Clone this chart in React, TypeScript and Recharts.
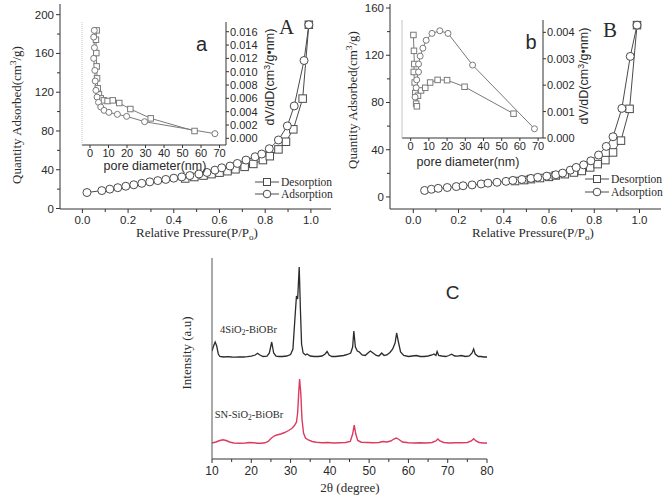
import React from "react";
import { LineChart, Line, XAxis, YAxis } from "recharts";

// ---------- data ----------
// (A) nitrogen isotherm, sample 1
const adsA_p = [0.02, 0.085, 0.12, 0.155, 0.19, 0.225, 0.26, 0.295, 0.33, 0.365, 0.4, 0.435, 0.47, 0.51, 0.545, 0.58, 0.61, 0.646, 0.678, 0.716, 0.756, 0.785, 0.818, 0.858, 0.897, 0.927, 0.97, 0.991];
const adsA_q = [16.5, 18.5, 20, 21.5, 23, 24.5, 26, 27.5, 28.8, 30, 31.3, 32.6, 34, 35.6, 37.2, 39.6, 42, 43.8, 46.5, 50, 53.4, 56.2, 61.7, 70.7, 85.2, 105.8, 152.7, 189.6];
const desA_p = [0.45, 0.49, 0.53, 0.565, 0.6, 0.635, 0.67, 0.71, 0.748, 0.79, 0.82, 0.858, 0.891, 0.923, 0.964, 0.991];
const desA_q = [31, 32.5, 34, 35.5, 37, 38.5, 40.5, 43, 46, 50, 54, 61, 68.9, 81.7, 113.4, 189.6];

// (B) nitrogen isotherm, sample 2
const adsB_p = [0.05, 0.08, 0.11, 0.15, 0.19, 0.22, 0.26, 0.3, 0.33, 0.37, 0.41, 0.44, 0.48, 0.52, 0.55, 0.59, 0.63, 0.66, 0.694, 0.72, 0.753, 0.785, 0.819, 0.853, 0.883, 0.922, 0.959, 0.989];
const adsB_q = [5.5, 6.5, 7.3, 8, 8.8, 9.5, 10.2, 11, 11.7, 12.4, 13.2, 14, 14.8, 15.7, 16.6, 17.6, 18.8, 20.2, 22.7, 25, 27.2, 30.6, 35.5, 42.8, 51, 75, 119, 145.5];
const desB_p = [0.45, 0.49, 0.52, 0.56, 0.6, 0.63, 0.67, 0.71, 0.745, 0.782, 0.815, 0.849, 0.883, 0.918, 0.956, 0.989];
const desB_q = [13.5, 14.3, 15.1, 16, 17, 18.2, 19.3, 20.7, 22, 25, 27.8, 31.2, 37.7, 47.7, 74.6, 145.5];

// (a) pore size distribution, sample 1
const psdA_desD = [3.6, 3.2, 3.4, 3.6, 3.8, 4.2, 4.8, 5.8, 7.5, 9.5, 12.3, 15.8, 21.8, 32.8, 56.5];
const psdA_desV = [0.0162, 0.0148, 0.0128, 0.0108, 0.009, 0.0075, 0.0066, 0.006, 0.0057, 0.0056, 0.0057, 0.0053, 0.0044, 0.003, 0.0011];
const psdA_adsD = [2.3, 2.0, 2.4, 2.0, 2.6, 2.8, 3.2, 3.8, 4.6, 5.8, 7.6, 10.2, 14.8, 19.8, 29.5, 67.5];
const psdA_adsV = [0.0162, 0.0152, 0.0136, 0.012, 0.0102, 0.0086, 0.0072, 0.0062, 0.0054, 0.0047, 0.0042, 0.0039, 0.0036, 0.0033, 0.0025, 0.0007];

// (b) pore size distribution, sample 2
const psdB_adsD = [2.4, 3.0, 3.3, 4.3, 4.3, 5.2, 6.7, 8.5, 11.7, 16, 20.5, 34, 68];
const psdB_adsV = [0.00155, 0.0019, 0.0022, 0.0025, 0.0028, 0.0031, 0.0034, 0.0037, 0.00396, 0.00406, 0.00396, 0.00276, 0.00035];
const psdB_desD = [1.5, 1.8, 2.0, 1.7, 2.2, 2.5, 3.0, 3.4, 4.0, 5.7, 8.0, 10.7, 14.8, 20, 29.6, 56.5];
const psdB_desV = [0.0039, 0.0033, 0.0028, 0.0025, 0.0021, 0.0017, 0.0013, 0.0012, 0.0016, 0.0018, 0.0019, 0.0021, 0.0022, 0.00219, 0.00194, 0.00092];

// (C) XRD patterns [2theta, intensity a.u. (offset stacked)]
const xrd4SiO2: [number, number][] = [
  [10, 108], [10.4, 113], [10.8, 117], [11.2, 113], [11.6, 105], [12, 102.5], [13, 102], [14, 102.3], [15, 102], [16, 101.8],
  [17, 102.2], [18, 102], [19, 102.3], [20, 102.8], [21, 104], [21.6, 105.8], [22.2, 104], [23, 102.5], [24, 102.8], [24.6, 106],
  [25.2, 117], [25.7, 106], [26.3, 102.8], [27, 102.5], [28, 102.5], [29, 103], [30, 104.5], [30.6, 110], [31.1, 140], [31.5, 163],
  [31.8, 160], [32.2, 192], [32.5, 150], [32.8, 115], [33.2, 106], [33.8, 104], [34.2, 105], [35, 103], [36, 102.5], [37, 102.5],
  [38, 103], [38.8, 105], [39.3, 107.5], [39.8, 104], [40.5, 102.5], [41.5, 102.5], [42.5, 103], [43.5, 103.5], [44.5, 104.5], [45.3, 106],
  [45.8, 112], [46.1, 128], [46.5, 112], [47, 108], [47.5, 107], [48.2, 104], [49, 103.5], [49.7, 106], [50.3, 108], [51, 106],
  [51.8, 103.5], [52.5, 103], [53.2, 106], [53.8, 103.5], [54.5, 104], [55.3, 106.5], [56, 110], [56.6, 116], [57, 126], [57.4, 118],
  [58, 107], [58.8, 103.5], [60, 102.5], [61, 103], [62, 103.5], [63, 102.5], [64, 102.5], [65, 103], [66, 104], [66.5, 105],
  [67, 103.5], [67.3, 107.5], [67.7, 103.5], [68.5, 103], [69.5, 102.5], [70.3, 103.5], [71, 104.8], [71.8, 103], [72.5, 102.8], [73.5, 103.5],
  [74.5, 102.5], [75.5, 103], [76.2, 106], [76.6, 110], [77, 105], [77.8, 102.5], [78.5, 102.5], [79.2, 102], [80, 102],
];
const xrdSN: [number, number][] = [
  [10, 16], [11, 17], [12, 18.5], [12.8, 19.2], [13.6, 18.5], [14.5, 17], [15.5, 16], [17, 15.8], [18.5, 16], [19.5, 16.5],
  [20.5, 16.3], [21.5, 15.8], [22.5, 15.8], [23.5, 16.2], [24.3, 17.5], [25, 20.5], [25.8, 23], [26.5, 24], [27.5, 25], [28.5, 26.5],
  [29.5, 28.5], [30.3, 30.5], [31, 33.5], [31.5, 37], [31.8, 46], [32.1, 68], [32.3, 80], [32.6, 66], [32.9, 40], [33.3, 26],
  [33.8, 21], [34.5, 19], [35.5, 17.5], [36.5, 16.8], [38, 16.3], [39.5, 16.5], [41, 16], [42.5, 16.2], [44, 16.5], [45.2, 17.5],
  [45.8, 25], [46.2, 34], [46.6, 25], [47.1, 18.5], [48, 16.8], [49.5, 16.5], [51, 16.3], [52.5, 16.5], [53.5, 17.5], [54.5, 17],
  [55.5, 18], [56.3, 20], [56.9, 21], [57.6, 19.5], [58.5, 17], [60, 16.2], [61.5, 16], [63, 16.3], [64.5, 16], [66, 16.5],
  [67, 18], [67.5, 20], [68, 18], [69, 16.5], [70.5, 16], [72, 16.3], [73.5, 16.2], [75, 16.5], [76, 18], [76.6, 20.3],
  [77.2, 18], [78, 16.5], [79, 16], [80, 16],
];

// tick values
const pressureTicks = [0, 0.1, 0.2, 0.3, 0.4, 0.5, 0.6, 0.7, 0.8, 0.9, 1.0];
const qTicksA = [0, 20, 40, 60, 80, 100, 120, 140, 160, 180, 200];
const qTicksB = [0, 20, 40, 60, 80, 100, 120, 140, 160];
const poreTicks = [0, 10, 20, 30, 40, 50, 60, 70];
const dvTicksA = [0, 0.002, 0.004, 0.006, 0.008, 0.01, 0.012, 0.014, 0.016];
const dvTicksB = [0, 0.001, 0.002, 0.003, 0.004];
const thetaTicks = [10, 15, 20, 25, 30, 35, 40, 45, 50, 55, 60, 65, 70, 75, 80];

// ---------- helpers ----------
const SERIF = '"Liberation Serif", "Times New Roman", serif';
const SANS = '"Liberation Sans", Arial, sans-serif';
const AXIS = "#333";
const TXT = "#2a2a2a";
const MARK = "#4a4a4a";
const INSET = "#7a7a7a";

const zip = (xs: number[], ys: number[]) => xs.map((x, i) => ({ x, y: ys[i] }));
const pairs = (d: [number, number][]) => d.map(([x, y]) => ({ x, y }));

type TickOpts = {
  major: (v: number) => boolean;
  fmt: (v: number) => string;
  size: number;
  majorLen: number;
  minorLen: number;
  gap: number;
};

const bottomTick = (o: TickOpts) => (p: any) => {
  const v = p.payload.value as number;
  const big = o.major(v);
  return (
    <g>
      <line x1={p.x} x2={p.x} y1={p.y} y2={p.y + (big ? o.majorLen : o.minorLen)} stroke={AXIS} />
      {big && (
        <text x={p.x} y={p.y + o.gap} textAnchor="middle" dominantBaseline="central" fontSize={o.size} fontFamily={SANS} fill={TXT}>
          {o.fmt(v)}
        </text>
      )}
    </g>
  );
};

const leftTick = (o: TickOpts) => (p: any) => {
  const v = p.payload.value as number;
  const big = o.major(v);
  return (
    <g>
      <line x1={p.x} x2={p.x - (big ? o.majorLen : o.minorLen)} y1={p.y} y2={p.y} stroke={AXIS} />
      {big && (
        <text x={p.x - o.gap} y={p.y} textAnchor="end" dominantBaseline="central" fontSize={o.size} fontFamily={SANS} fill={TXT}>
          {o.fmt(v)}
        </text>
      )}
    </g>
  );
};

const rightTick = (o: TickOpts) => (p: any) => {
  const v = p.payload.value as number;
  const big = o.major(v);
  return (
    <g>
      <line x1={p.x} x2={p.x + (big ? o.majorLen : o.minorLen)} y1={p.y} y2={p.y} stroke={AXIS} />
      {big && (
        <text x={p.x + o.gap} y={p.y} textAnchor="start" dominantBaseline="central" fontSize={o.size} fontFamily={SANS} fill={TXT}>
          {o.fmt(v)}
        </text>
      )}
    </g>
  );
};

const squareDot = (size: number, stroke: string) => (p: any) => {
  if (p.cx == null || p.cy == null) return <g key={p.index} />;
  return (
    <rect key={p.index} x={p.cx - size / 2} y={p.cy - size / 2} width={size} height={size} fill="#fff" stroke={stroke} strokeWidth={1} />
  );
};

const pressTick = bottomTick({
  major: (v) => Math.round(v * 10) % 2 === 0,
  fmt: (v) => v.toFixed(1),
  size: 11.5,
  majorLen: 4,
  minorLen: 3,
  gap: 10.5,
});
const qTick = leftTick({ major: (v) => v % 40 === 0, fmt: (v) => String(v), size: 11.5, majorLen: 4, minorLen: 3, gap: 6 });
const poreTick = bottomTick({ major: () => true, fmt: (v) => String(v), size: 11, majorLen: 3, minorLen: 2, gap: 8 });
const dvTick = rightTick({ major: () => true, fmt: (v) => v.toFixed(3), size: 11, majorLen: 3, minorLen: 2, gap: 4 });
const thetaTick = bottomTick({ major: (v) => v % 10 === 0, fmt: (v) => String(v), size: 12, majorLen: 4, minorLen: 3, gap: 12 });

// ---------- text helpers ----------
const Label = ({
  cx,
  cy,
  size,
  font,
  rotate = 0,
  children,
}: {
  cx: number;
  cy: number;
  size: number;
  font: string;
  rotate?: number;
  children: React.ReactNode;
}) => (
  <div
    style={{
      position: "absolute",
      left: cx,
      top: cy,
      transform: `translate(-50%, -50%) rotate(${rotate}deg)`,
      fontFamily: font,
      fontSize: size,
      lineHeight: 1,
      whiteSpace: "nowrap",
      color: TXT,
    }}
  >
    {children}
  </div>
);

const Sup = ({ children }: { children: React.ReactNode }) => (
  <span style={{ fontSize: "0.7em", verticalAlign: "0.5em" }}>{children}</span>
);
const Sub = ({ children }: { children: React.ReactNode }) => (
  <span style={{ fontSize: "0.7em", verticalAlign: "-0.3em" }}>{children}</span>
);

const IsoLegend = ({ left, top, gap }: { left: number; top: number; gap: number }) => {
  const row = (label: string, square: boolean, i: number) => (
    <div key={label} style={{ position: "absolute", left: 0, top: i * gap, display: "flex", alignItems: "center", height: 12 }}>
      <svg width={24} height={12}>
        <line x1={0} x2={24} y1={6} y2={6} stroke={MARK} />
        {square ? (
          <rect x={8.5} y={2.5} width={7} height={7} fill="#fff" stroke={MARK} />
        ) : (
          <circle cx={12} cy={6} r={3.8} fill="#fff" stroke={MARK} />
        )}
      </svg>
      <span style={{ fontFamily: SERIF, fontSize: 11.5, color: TXT, marginLeft: 2 }}>{label}</span>
    </div>
  );
  return (
    <div style={{ position: "absolute", left, top }}>
      {row("Desorption", true, 0)}
      {row("Adsorption", false, 1)}
    </div>
  );
};

// ---------- charts ----------
const frameAxes = (color: string) => [
  <XAxis key="t" xAxisId="top" orientation="top" type="number" domain={[0, 1]} height={0} tick={false} tickLine={false} axisLine={{ stroke: color }} />,
  <YAxis key="r" yAxisId="right" orientation="right" type="number" domain={[0, 1]} width={0} tick={false} tickLine={false} axisLine={{ stroke: color }} />,
];

function Isotherm({
  width,
  margin,
  xDomain,
  yDomain,
  yTicks,
  ads,
  des,
}: {
  width: number;
  margin: { top: number; right: number; bottom: number; left: number };
  xDomain: [number, number];
  yDomain: [number, number];
  yTicks: number[];
  ads: { x: number; y: number }[];
  des: { x: number; y: number }[];
}) {
  return (
    <LineChart width={width} height={250} margin={margin}>
      <XAxis
        type="number"
        dataKey="x"
        domain={xDomain}
        allowDataOverflow
        ticks={pressureTicks}
        interval={0}
        height={41}
        tickSize={0}
        tickMargin={0}
        tickLine={false}
        tick={pressTick}
        axisLine={{ stroke: AXIS }}
      />
      <YAxis
        type="number"
        dataKey="y"
        domain={yDomain}
        allowDataOverflow
        ticks={yTicks}
        interval={0}
        width={60}
        tickSize={0}
        tickMargin={0}
        tickLine={false}
        tick={qTick}
        axisLine={{ stroke: AXIS }}
      />
      {frameAxes("#a8a8a8")}
      <Line
        data={des}
        dataKey="y"
        stroke={MARK}
        strokeWidth={1}
        dot={squareDot(7.5, MARK)}
        activeDot={false}
        isAnimationActive={false}
      />
      <Line
        data={ads}
        dataKey="y"
        stroke={MARK}
        strokeWidth={1}
        dot={{ r: 4, fill: "#fff", stroke: MARK, strokeWidth: 1 }}
        activeDot={false}
        isAnimationActive={false}
      />
    </LineChart>
  );
}

function PoreInset({
  width,
  height,
  margin,
  rightWidth,
  xDomain,
  yDomain,
  yTicks,
  ads,
  des,
  leftDash,
}: {
  width: number;
  height: number;
  margin: { top: number; right: number; bottom: number; left: number };
  rightWidth: number;
  xDomain: [number, number];
  yDomain: [number, number];
  yTicks: number[];
  ads: { x: number; y: number }[];
  des: { x: number; y: number }[];
  leftDash?: string;
}) {
  return (
    <LineChart width={width} height={height} margin={margin}>
      <XAxis
        type="number"
        dataKey="x"
        domain={xDomain}
        allowDataOverflow
        ticks={poreTicks}
        interval={0}
        height={30}
        tickSize={0}
        tickMargin={0}
        tickLine={false}
        tick={poreTick}
        axisLine={{ stroke: AXIS }}
      />
      <YAxis
        yAxisId="l"
        type="number"
        domain={[0, 1]}
        width={22}
        tick={false}
        tickLine={false}
        axisLine={{ stroke: "#c4c4c4", strokeDasharray: leftDash }}
      />
      <YAxis
        yAxisId="r"
        orientation="right"
        type="number"
        dataKey="y"
        domain={yDomain}
        allowDataOverflow
        ticks={yTicks}
        interval={0}
        width={rightWidth}
        tickSize={0}
        tickMargin={0}
        tickLine={false}
        tick={dvTick}
        axisLine={{ stroke: AXIS }}
      />
      <Line
        yAxisId="r"
        data={des}
        dataKey="y"
        stroke={INSET}
        strokeWidth={1}
        dot={squareDot(5.5, INSET)}
        activeDot={false}
        isAnimationActive={false}
      />
      <Line
        yAxisId="r"
        data={ads}
        dataKey="y"
        stroke={INSET}
        strokeWidth={1}
        dot={{ r: 3, fill: "#fff", stroke: INSET, strokeWidth: 1 }}
        activeDot={false}
        isAnimationActive={false}
      />
    </LineChart>
  );
}

function XrdChart() {
  return (
    <LineChart width={345} height={246} margin={{ top: 8, right: 8, bottom: 0, left: 0 }}>
      <XAxis
        type="number"
        dataKey="x"
        domain={[10, 80]}
        allowDataOverflow
        ticks={thetaTicks}
        interval={0}
        height={37}
        tickSize={0}
        tickMargin={0}
        tickLine={false}
        tick={thetaTick}
        axisLine={{ stroke: AXIS }}
      />
      <YAxis type="number" dataKey="y" domain={[0, 201]} allowDataOverflow width={62} tick={false} tickLine={false} axisLine={{ stroke: "#555" }} />
      {frameAxes("#cfcfcf")}
      <Line data={pairs(xrd4SiO2)} dataKey="y" stroke="#2b2b2b" strokeWidth={1.3} dot={false} activeDot={false} isAnimationActive={false} />
      <Line data={pairs(xrdSN)} dataKey="y" stroke="#dd3a60" strokeWidth={1.4} dot={false} activeDot={false} isAnimationActive={false} />
    </LineChart>
  );
}

export default function App() {
  return (
    <div style={{ position: "absolute", left: 0, top: 0, width: 663, height: 496, background: "#fff", overflow: "hidden" }}>
      {/* Panel A */}
      <div style={{ position: "absolute", left: 0, top: 0 }}>
        <Isotherm
          width={340}
          margin={{ top: 4, right: 9, bottom: 0, left: 0 }}
          xDomain={[-0.098, 1.088]}
          yDomain={[-0.5, 211]}
          yTicks={qTicksA}
          ads={zip(adsA_p, adsA_q)}
          des={zip(desA_p, desA_q)}
        />
      </div>
      {/* Panel B */}
      <div style={{ position: "absolute", left: 330, top: 0 }}>
        <Isotherm
          width={333}
          margin={{ top: 4, right: 2, bottom: 0, left: 0 }}
          xDomain={[-0.103, 1.095]}
          yDomain={[-10.2, 163.4]}
          yTicks={qTicksB}
          ads={zip(adsB_p, adsB_q)}
          des={zip(desB_p, desB_q)}
        />
      </div>
      {/* inset a */}
      <div style={{ position: "absolute", left: 60, top: 10 }}>
        <PoreInset
          width={230}
          height={165}
          margin={{ top: 12, right: 0, bottom: 0, left: 0 }}
          rightWidth={64}
          xDomain={[-4.33, 73.5]}
          yDomain={[-0.001, 0.01746]}
          yTicks={dvTicksA}
          ads={zip(psdA_adsD, psdA_adsV)}
          des={zip(psdA_desD, psdA_desV)}
          leftDash="1 1"
        />
      </div>
      {/* inset b */}
      <div style={{ position: "absolute", left: 380, top: 10 }}>
        <PoreInset
          width={230}
          height={158}
          margin={{ top: 10, right: 0, bottom: 0, left: 0 }}
          rightWidth={67}
          xDomain={[-4.77, 72.7]}
          yDomain={[0, 0.004467]}
          yTicks={dvTicksB}
          ads={zip(psdB_adsD, psdB_adsV)}
          des={zip(psdB_desD, psdB_desV)}
        />
      </div>
      {/* Panel C */}
      <div style={{ position: "absolute", left: 150, top: 250 }}>
        <XrdChart />
      </div>

      {/* titles and axis names */}
      <Label cx={16} cy={115} size={13} font={SERIF} rotate={-90}>
        Quantity Adsorbed(cm<Sup>3</Sup>/g)
      </Label>
      <Label cx={197} cy={234} size={13} font={SERIF}>
        Relative Pressure(P/P<Sub>o</Sub>)
      </Label>
      <Label cx={352} cy={100} size={13} font={SERIF} rotate={-90}>
        Quantity Adsorbed(cm<Sup>3</Sup>/g)
      </Label>
      <Label cx={533} cy={234} size={13} font={SERIF}>
        Relative Pressure(P/P<Sub>o</Sub>)
      </Label>
      <Label cx={286.5} cy={27} size={21} font={SERIF}>A</Label>
      <Label cx={610} cy={30} size={21} font={SERIF}>B</Label>
      <Label cx={201.5} cy={44} size={20} font={SANS}>a</Label>
      <Label cx={531} cy={42} size={20} font={SANS}>b</Label>

      <Label cx={155} cy={166} size={12.5} font={SANS}>pore diameter(nm)</Label>
      <Label cx={270} cy={77} size={12.5} font={SANS} rotate={-90}>
        dV/dD(cm<Sup>3</Sup>/g•nm)
      </Label>
      <Label cx={468} cy={162} size={12.5} font={SANS}>pore diameter(nm)</Label>
      <Label cx={584} cy={76} size={12.5} font={SANS} rotate={-90}>
        dV/dD(cm<Sup>3</Sup>/g•nm)
      </Label>

      <IsoLegend left={255} top={175.5} gap={12} />
      <IsoLegend left={585} top={173} gap={12.7} />

      <Label cx={186} cy={353} size={13} font={SERIF} rotate={-90}>Intensity (a.u)</Label>
      <Label cx={350} cy={487} size={13} font={SERIF}>2θ (degree)</Label>
      <Label cx={452.5} cy={292} size={19} font={SANS}>C</Label>
      <Label cx={248.5} cy={331} size={10.5} font={SERIF}>
        4SiO<Sub>2</Sub>-BiOBr
      </Label>
      <Label cx={249} cy={416} size={10.5} font={SERIF}>
        SN-SiO<Sub>2</Sub>-BiOBr
      </Label>
    </div>
  );
}
